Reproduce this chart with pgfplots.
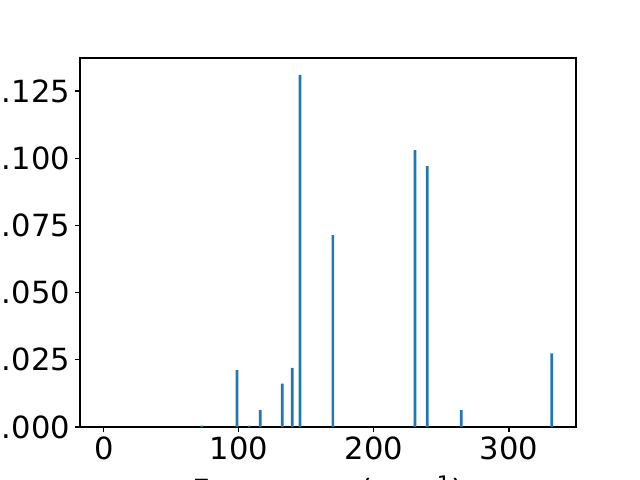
\documentclass[border=0pt]{standalone}
\usepackage{pgfplots}
\pgfplotsset{compat=1.18}
\usepackage{fontspec}
\setmainfont{DejaVu Sans}
\definecolor{mplblue}{HTML}{1F77B4}
\begin{document}
\fontsize{22}{26}\selectfont
\begin{tikzpicture}
\useasboundingbox (0,0) rectangle (460.8pt,345.6pt);
\clip (0,0) rectangle (460.8pt,345.6pt);
\begin{axis}[
  at={(57.6pt,38.16pt)}, anchor=south west,
  scale only axis, width=357.12pt, height=265.68pt,
  xmin=-17.6, xmax=349.6, ymin=0, ymax=0.1373,
  xtick={0,100,200,300},
  ytick={0,0.025,0.05,0.075,0.1,0.125},
  yticklabel style={/pgf/number format/fixed,/pgf/number format/zerofill,/pgf/number format/precision=3},
  scaled y ticks=false,
  /pgf/number format/assume math mode=true,
  tick align=outside, major tick length=3.5pt,
  every tick/.style={black, line width=0.8pt},
  axis line style={line width=0.8pt},
  xtick pos=bottom, ytick pos=left,
  ticklabel style={font=\fontsize{22}{26}\selectfont},
  xticklabel style={inner sep=0pt, yshift=-3.5pt},
  yticklabel style={inner sep=0pt, xshift=-3.5pt},
  xlabel={Frequency (cm\textsuperscript{−1})},
  xlabel style={font=\fontsize{22}{26}\selectfont, inner sep=0pt, yshift=-11pt},
  ylabel={Intensity},
  ylabel style={font=\fontsize{22}{26}\selectfont},
]
\addplot[ybar, bar width=2, bar shift=0pt, fill=mplblue, draw=none] coordinates {
(72.6,0.0005) (98.7,0.0212) (107.6,0.0005) (115.8,0.0063) (132.1,0.0161)
(139.5,0.0220) (145.2,0.1310) (169.6,0.0714) (230.4,0.1030) (239.5,0.0971)
(264.7,0.0063) (331.6,0.0274)
};
\end{axis}
\end{tikzpicture}
\end{document}
